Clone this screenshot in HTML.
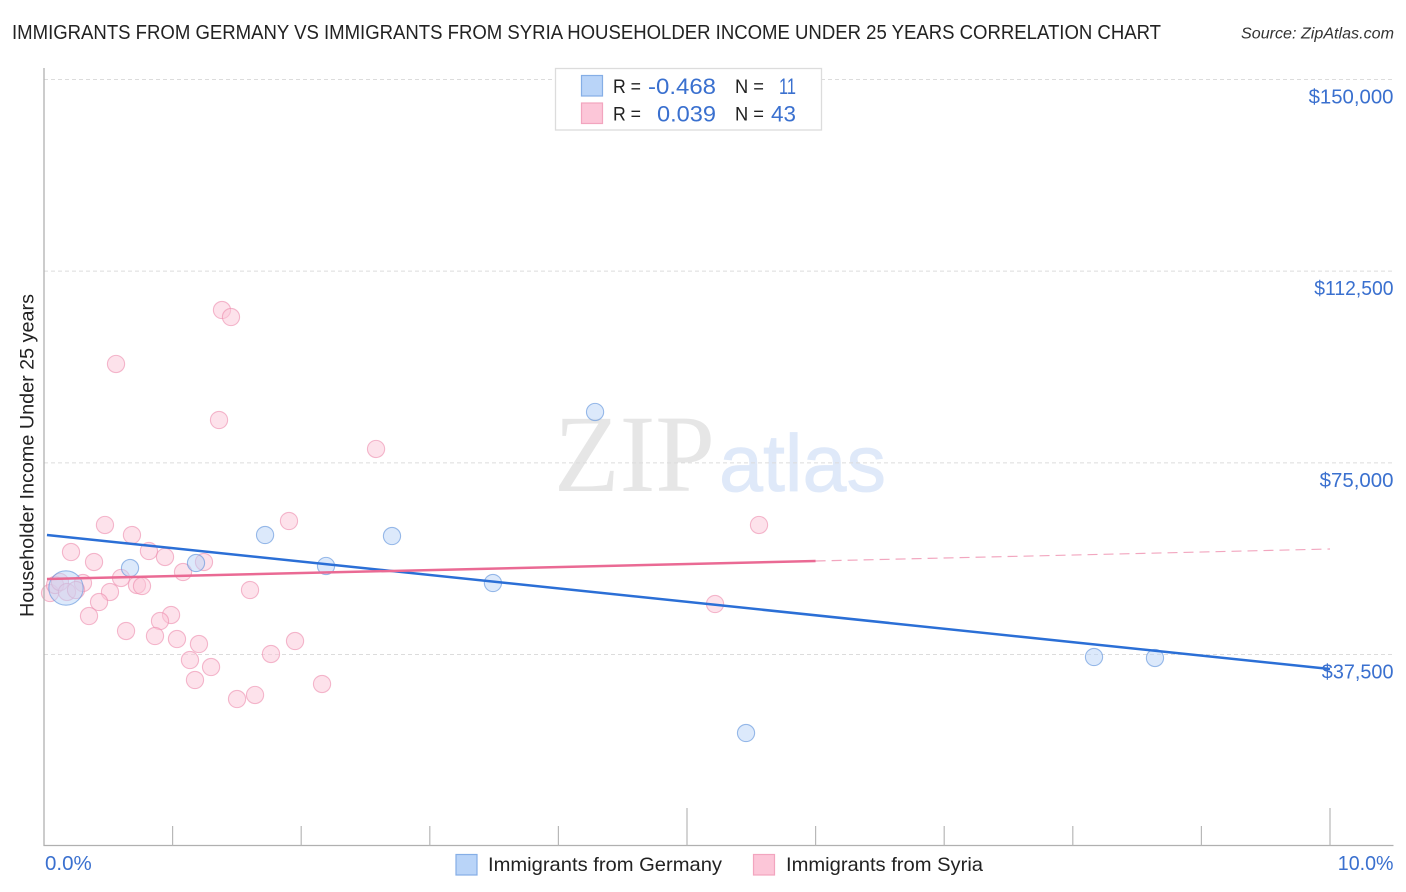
<!DOCTYPE html>
<html lang="en">
<head>
<meta charset="utf-8">
<title>Immigrants from Germany vs Immigrants from Syria Householder Income Under 25 Years Correlation Chart</title>
<style>
html,body{margin:0;padding:0;background:#fff;width:1406px;height:892px;overflow:hidden}
svg{display:block}
text{font-family:"Liberation Sans",sans-serif}
</style>
</head>
<body>
<svg id="chart" xmlns="http://www.w3.org/2000/svg" width="1406" height="892" viewBox="0 0 1406 892">
  <text x="12" y="39" font-size="20" fill="#222" textLength="1149" lengthAdjust="spacingAndGlyphs">IMMIGRANTS FROM GERMANY VS IMMIGRANTS FROM SYRIA HOUSEHOLDER INCOME UNDER 25 YEARS CORRELATION CHART</text>
  <text x="1241" y="38.500" font-size="15.500" font-style="italic" fill="#333" textLength="153" lengthAdjust="spacingAndGlyphs">Source: ZipAtlas.com</text>

  <g>
    <text x="554" y="491" font-size="110" style="font-family:'Liberation Serif',serif" fill="#e6e6e6" textLength="161" lengthAdjust="spacingAndGlyphs">ZIP</text>
    <text x="719" y="491" font-size="81" fill="#dfe9f9" stroke="#dfe9f9" stroke-width="0.800" textLength="167" lengthAdjust="spacingAndGlyphs">atlas</text>
  </g>

  <g id="grid"></g>
  <g id="points"></g>
  <g id="trends"></g>
  <g id="axes"></g>
  <g id="ylabels"></g>
  <g id="xlabels"></g>

  <text transform="translate(33.500 617) rotate(-90)" x="0" y="0" font-size="19" fill="#222" textLength="323" lengthAdjust="spacingAndGlyphs">Householder Income Under 25 years</text>

  <g>
    <rect x="555.500" y="68.500" width="266" height="61.500" fill="#fff" stroke="#dcdcdc" stroke-width="1.300"/>
    <rect x="581.500" y="75.500" width="21" height="20.500" fill="#b9d4f8" stroke="#85aee6" stroke-width="1.200"/>
    <rect x="581.500" y="103" width="21" height="20.500" fill="#fcc6d8" stroke="#f2a5bf" stroke-width="1.200"/>
    <g font-size="19.500" fill="#222">
      <text x="613" y="93" textLength="28" lengthAdjust="spacingAndGlyphs">R =</text>
      <text x="735" y="93" textLength="29" lengthAdjust="spacingAndGlyphs">N =</text>
      <text x="613" y="120.500" textLength="28" lengthAdjust="spacingAndGlyphs">R =</text>
      <text x="735" y="120.500" textLength="29" lengthAdjust="spacingAndGlyphs">N =</text>
    </g>
    <g font-size="22" fill="#3a70cf">
      <text x="648" y="94" textLength="68" lengthAdjust="spacingAndGlyphs">-0.468</text>
      <text x="779" y="94" textLength="17" lengthAdjust="spacingAndGlyphs">11</text>
      <text x="657" y="121.500" textLength="59" lengthAdjust="spacingAndGlyphs">0.039</text>
      <text x="771" y="121.500" textLength="25" lengthAdjust="spacingAndGlyphs">43</text>
    </g>
  </g>

  <g>
    <g>
      <rect x="456" y="854.500" width="21" height="20.500" fill="#b9d4f8" stroke="#85aee6" stroke-width="1.200"/>
      <text x="488" y="871" font-size="19.500" fill="#222" textLength="234" lengthAdjust="spacingAndGlyphs">Immigrants from Germany</text>
    </g>
    <g>
      <rect x="753.500" y="854.500" width="21" height="20.500" fill="#fcc6d8" stroke="#f2a5bf" stroke-width="1.200"/>
      <text x="786" y="871" font-size="19.500" fill="#222" textLength="197" lengthAdjust="spacingAndGlyphs">Immigrants from Syria</text>
    </g>
  </g>
</svg>
<script>
// Chart data: x = share of immigrants (%), y = householder income ($), size = relative point size
const germanyX = [0.171, 0.669, 1.182, 1.719, 2.193, 2.706, 3.491, 4.285, 5.459, 8.165, 8.639];
const germanyY = [50510, 54420, 55400, 60880, 54820, 60680, 51490, 84950, 22140, 37010, 36820];
const germanySize = [2, 1, 1, 1, 1, 1, 1, 1, 1, 1, 1];

const syriaX = [1.384, 1.454, 0.56, 1.361, 2.582, 5.56, 1.905, 0.474, 0.684, 0.21, 0.816, 0.941, 0.389, 1.244, 1.081, 0.599, 0.303, 0.723, 0.762, 1.602, 0.513, 0.428, 5.218, 0.35, 0.988, 0.902, 0.638, 0.863, 1.034, 1.205, 1.952, 1.765, 1.135, 1.299, 1.174, 2.162, 1.641, 1.501, 0.047, 0.086, 0.124, 0.179, 0.249];
const syriaY = [104900, 103530, 94340, 83380, 77710, 62840, 63620, 62840, 60880, 57550, 57750, 56580, 55600, 55600, 53640, 52470, 51490, 51100, 50900, 50120, 49730, 47770, 47380, 45030, 45230, 44050, 42100, 41120, 40530, 39550, 40140, 37600, 36420, 35050, 32510, 31730, 29580, 28790, 49530, 51100, 51690, 49730, 50120];

const germanyTrendX = [0.023, 10];
const germanyTrendY = [60880, 34660];
const syriaTrendX = [0.023, 6];
const syriaTrendY = [52270, 55790];
const syriaTrendDashedX = [6, 10];
const syriaTrendDashedY = [55790, 58140];

const yGridValues = [37500, 75000, 112500, 150000];
const yTickLabels = ['$37,500', '$75,000', '$112,500', '$150,000'];
const xTickValues = [0, 1, 2, 3, 4, 5, 6, 7, 8, 9, 10];
const xMajorTicks = [5, 10];
const xEndValues = [0, 10];
const xEndLabels = ['0.0%', '10.0%'];

const NS = 'http://www.w3.org/2000/svg';
const xScale = v => 44 + v * 128.6;
const yScale = v => 654.5 - (v - 37500) * (575 / 112500);

// Approximate label width so tick labels fill the same span as the reference's proportional digits
function labelWidth(s) {
  let w = 0;
  for (const ch of s) {
    if (ch === '1') w += 9;
    else if (ch === '0') w += 12.6;
    else if (ch === ',' ) w += 4.5;
    else if (ch === '.') w += 5;
    else if (ch === '%') w += 16.5;
    else w += 10.5;
  }
  return w;
}

function make(tag, attrs, parent) {
  const el = document.createElementNS(NS, tag);
  for (const k in attrs) el.setAttribute(k, attrs[k]);
  parent.appendChild(el);
  return el;
}

const gridG = document.getElementById('grid');
const trendsG = document.getElementById('trends');
const pointsG = document.getElementById('points');
const axesG = document.getElementById('axes');
const yLabG = document.getElementById('ylabels');
const xLabG = document.getElementById('xlabels');

yGridValues.forEach((v, i) => {
  const line = make('line', {x1: 44, x2: 1393, y1: yScale(v), y2: yScale(v), stroke: '#dcdcdc', 'stroke-width': 1, 'stroke-dasharray': '4 3'}, gridG);
  
  
  const w = labelWidth(yTickLabels[i]);
  const label = make('text', {x: 1393.5 - w, y: yScale(v) + 24, 'font-size': 20, fill: '#3a70cf', textLength: w, lengthAdjust: 'spacingAndGlyphs'}, yLabG);
  label.textContent = yTickLabels[i];
  
  
});

function drawPoints(xs, ys, sizes, fill, stroke, name) {
  xs.forEach((x, i) => {
    const size = sizes ? sizes[i] : 1;
    const c = make('circle', {cx: xScale(x), cy: yScale(ys[i]), r: size * 8.6, fill: fill, 'fill-opacity': 0.5, stroke: stroke, 'stroke-opacity': 0.62, 'stroke-width': 1.1}, pointsG);
    
    
  });
}
drawPoints(syriaX, syriaY, null, '#fcc6d8', '#ee8fb0', 'syria-point');
drawPoints(germanyX, germanyY, germanySize, '#b9d4f8', '#5f93dc', 'germany-point');

function drawTrend(xs, ys, color, width, dash, opacity, name) {
  const l = make('line', {x1: xScale(xs[0]), y1: yScale(ys[0]), x2: xScale(xs[1]), y2: yScale(ys[1]), stroke: color, 'stroke-width': width, 'stroke-opacity': opacity, 'stroke-dasharray': dash}, trendsG);
  
  
}
drawTrend(germanyTrendX, germanyTrendY, '#2b6fd6', 2.5, 'none', 1, 'germany-trend-line');
drawTrend(syriaTrendX, syriaTrendY, '#ea6a94', 2.5, 'none', 1, 'syria-trend-line');
drawTrend(syriaTrendDashedX, syriaTrendDashedY, '#ea6a94', 1.2, '10 6', 0.6, 'syria-trend-projection');

const yAxis = make('line', {x1: 44, x2: 44, y1: 68, y2: 846, stroke: '#b0b0b0', 'stroke-width': 1.3}, axesG);


const xAxis = make('line', {x1: 43.5, x2: 1393.5, y1: 845.5, y2: 845.5, stroke: '#b0b0b0', 'stroke-width': 1.3}, axesG);



xTickValues.forEach(v => {
  if (v === 0) return;
  const top = xMajorTicks.includes(v) ? 808 : 826;
  const t = make('line', {x1: xScale(v), x2: xScale(v), y1: top, y2: 845.5, stroke: '#b8b8b8', 'stroke-width': 1.2}, axesG);
  
  
});

xEndValues.forEach((v, i) => {
  const first = i === 0;
  const w = labelWidth(xEndLabels[i]);
  const label = make('text', {x: first ? xScale(v) + 1 : 1393.5 - w, y: 870, 'font-size': 20, fill: '#3a70cf', textLength: w, lengthAdjust: 'spacingAndGlyphs'}, xLabG);
  label.textContent = xEndLabels[i];
  
  
});
</script>
</body>
</html>
